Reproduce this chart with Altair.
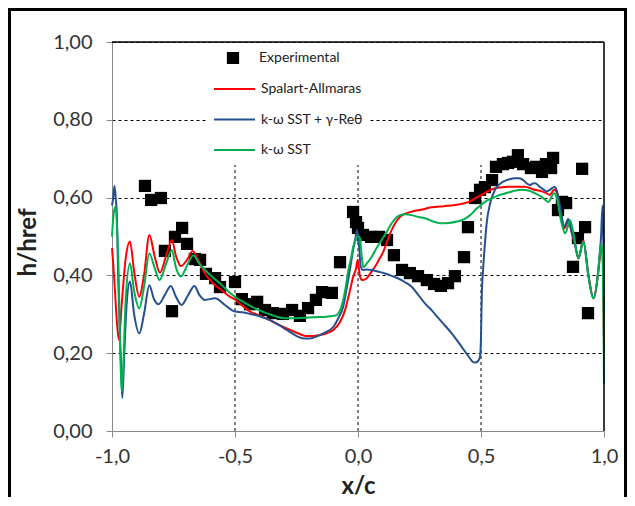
import altair as alt
import pandas as pd

# ---------------- data ----------------
exp_x = [-0.866, -0.841, -0.801, -0.785, -0.744, -0.715, -0.695, -0.663, -0.642, -0.756,
         -0.618, -0.581, -0.561, -0.5, -0.472, -0.439, -0.41, -0.378, -0.346, -0.305,
         -0.268, -0.236, -0.203, -0.171, -0.146, -0.106, -0.073, -0.02, -0.008, 0.0,
         0.02, 0.053, 0.085, 0.118, 0.146, 0.179, 0.211, 0.244, 0.28, 0.309,
         0.337, 0.366, 0.394, 0.431, 0.447, 0.476, 0.496, 0.516, 0.545, 0.561,
         0.589, 0.61, 0.63, 0.65, 0.671, 0.703, 0.724, 0.748, 0.764, 0.793,
         0.785, 0.813, 0.829, 0.846, 0.874, 0.894, 0.911, 0.923, 0.935]
exp_y = [0.630, 0.594, 0.599, 0.463, 0.499, 0.522, 0.481, 0.442, 0.440, 0.308,
         0.404, 0.393, 0.370, 0.383, 0.339, 0.326, 0.332, 0.311, 0.303, 0.301,
         0.311, 0.296, 0.316, 0.337, 0.357, 0.355, 0.434, 0.563, 0.537, 0.522,
         0.504, 0.499, 0.499, 0.491, 0.452, 0.414, 0.406, 0.398, 0.388, 0.378,
         0.373, 0.380, 0.398, 0.447, 0.524, 0.599, 0.620, 0.627, 0.645, 0.679,
         0.686, 0.689, 0.692, 0.709, 0.686, 0.676, 0.679, 0.666, 0.686, 0.702,
         0.676, 0.568, 0.589, 0.586, 0.422, 0.496, 0.674, 0.524, 0.303]

sa_x = [-1.0, -0.995, -0.988, -0.98, -0.972, -0.96, -0.945, -0.927, -0.91, -0.889,
        -0.87, -0.848, -0.827, -0.805, -0.78, -0.757, -0.74, -0.72, -0.695, -0.672,
        -0.65, -0.622, -0.59, -0.554, -0.52, -0.5, -0.47, -0.439, -0.4, -0.358,
        -0.32, -0.276, -0.24, -0.209, -0.18, -0.154, -0.125, -0.1, -0.075, -0.053,
        -0.035, -0.02, -0.008, -0.001, 0.008, 0.018, 0.035, 0.05, 0.069, 0.085,
        0.103, 0.12, 0.137, 0.155, 0.171, 0.19, 0.218, 0.25, 0.3, 0.35,
        0.394, 0.428, 0.455, 0.476, 0.503, 0.53, 0.557, 0.611, 0.65, 0.679,
        0.713, 0.747, 0.767, 0.78, 0.797, 0.808, 0.821, 0.839, 0.855, 0.869,
        0.882, 0.896, 0.916, 0.937, 0.957, 0.977, 0.986, 0.993, 0.998, 1.0]
sa_y = [0.47, 0.43, 0.36, 0.28, 0.234, 0.33, 0.44, 0.487, 0.41, 0.345,
        0.40, 0.504, 0.45, 0.407, 0.45, 0.491, 0.45, 0.424, 0.44, 0.463,
        0.44, 0.405, 0.38, 0.362, 0.345, 0.338, 0.322, 0.307, 0.297, 0.285,
        0.272, 0.26, 0.25, 0.244, 0.244, 0.247, 0.252, 0.26, 0.278, 0.31,
        0.355, 0.395, 0.418, 0.44, 0.397, 0.388, 0.392, 0.405, 0.422, 0.44,
        0.461, 0.49, 0.517, 0.538, 0.551, 0.558, 0.564, 0.568, 0.575, 0.578,
        0.581, 0.585, 0.59, 0.598, 0.607, 0.617, 0.624, 0.628, 0.628, 0.628,
        0.621, 0.616, 0.611, 0.607, 0.62, 0.614, 0.573, 0.521, 0.539, 0.51,
        0.48, 0.444, 0.49, 0.40, 0.341, 0.41, 0.46, 0.47, 0.33, 0.205]

tr_x = [-1.0, -0.995, -0.99, -0.985, -0.98, -0.975, -0.968, -0.961, -0.958, -0.95,
        -0.94, -0.927, -0.91, -0.889, -0.87, -0.848, -0.83, -0.811, -0.785, -0.761,
        -0.74, -0.717, -0.69, -0.665, -0.645, -0.622, -0.581, -0.541, -0.5, -0.47,
        -0.439, -0.4, -0.358, -0.32, -0.29, -0.249, -0.22, -0.195, -0.165, -0.141,
        -0.1, -0.08, -0.06, -0.045, -0.033, -0.02, -0.012, -0.003, 0.005, 0.011,
        0.02, 0.035, 0.056, 0.08, 0.11, 0.14, 0.164, 0.19, 0.218, 0.245,
        0.272, 0.3, 0.327, 0.355, 0.381, 0.4, 0.421, 0.44, 0.455, 0.466,
        0.476, 0.488, 0.496, 0.5, 0.503, 0.508, 0.514, 0.523, 0.537, 0.557,
        0.575, 0.591, 0.615, 0.638, 0.655, 0.672, 0.685, 0.699, 0.71, 0.72,
        0.735, 0.747, 0.767, 0.78, 0.798, 0.808, 0.821, 0.839, 0.855, 0.869,
        0.882, 0.896, 0.916, 0.937, 0.957, 0.977, 0.984, 0.988, 0.994, 0.998, 1.0]
tr_y = [0.58, 0.60, 0.63, 0.60, 0.55, 0.40, 0.25, 0.13, 0.085, 0.20,
        0.33, 0.384, 0.30, 0.251, 0.30, 0.375, 0.34, 0.326, 0.35, 0.373,
        0.345, 0.324, 0.35, 0.373, 0.35, 0.337, 0.341, 0.324, 0.307, 0.305,
        0.301, 0.295, 0.285, 0.272, 0.26, 0.244, 0.238, 0.238, 0.244, 0.251,
        0.268, 0.29, 0.32, 0.37, 0.414, 0.465, 0.491, 0.517, 0.47, 0.423,
        0.414, 0.415, 0.414, 0.41, 0.405, 0.398, 0.392, 0.383, 0.371, 0.35,
        0.328, 0.31, 0.29, 0.27, 0.251, 0.235, 0.217, 0.20, 0.187, 0.178,
        0.176, 0.18, 0.191, 0.24, 0.345, 0.41, 0.465, 0.534, 0.585, 0.62,
        0.634, 0.641, 0.647, 0.65, 0.65, 0.645, 0.637, 0.632, 0.636, 0.637,
        0.63, 0.624, 0.616, 0.62, 0.627, 0.618, 0.578, 0.526, 0.545, 0.51,
        0.48, 0.444, 0.487, 0.397, 0.341, 0.414, 0.465, 0.50, 0.58, 0.45, 0.30]

sst_x = [-1.0, -0.993, -0.985, -0.978, -0.974, -0.968, -0.961, -0.955, -0.945, -0.927,
         -0.91, -0.889, -0.87, -0.848, -0.827, -0.807, -0.78, -0.757, -0.74, -0.72,
         -0.695, -0.67, -0.645, -0.622, -0.59, -0.554, -0.52, -0.5, -0.47, -0.44,
         -0.4, -0.35, -0.3, -0.25, -0.202, -0.16, -0.127, -0.1, -0.087, -0.073,
         -0.06, -0.05, -0.039, -0.028, -0.019, -0.01, -0.005, 0.003, 0.008, 0.015,
         0.022, 0.035, 0.056, 0.075, 0.096, 0.115, 0.137, 0.155, 0.171, 0.19,
         0.218, 0.245, 0.272, 0.3, 0.34, 0.37, 0.407, 0.43, 0.448, 0.465,
         0.476, 0.489, 0.516, 0.557, 0.611, 0.665, 0.692, 0.72, 0.747, 0.774,
         0.797, 0.808, 0.825, 0.842, 0.855, 0.862, 0.876, 0.896, 0.916, 0.937,
         0.957, 0.977, 0.985, 0.99, 0.995, 0.998, 1.0]
sst_y = [0.50, 0.56, 0.577, 0.50, 0.431, 0.25, 0.101, 0.15, 0.33, 0.431,
         0.36, 0.315, 0.37, 0.456, 0.42, 0.388, 0.43, 0.465, 0.42, 0.397,
         0.425, 0.452, 0.43, 0.414, 0.395, 0.375, 0.355, 0.345, 0.333, 0.322,
         0.31, 0.298, 0.29, 0.29, 0.292, 0.293, 0.294, 0.296, 0.298, 0.31,
         0.337, 0.37, 0.414, 0.445, 0.474, 0.49, 0.50, 0.50, 0.496, 0.45,
         0.421, 0.43, 0.448, 0.47, 0.491, 0.51, 0.534, 0.548, 0.555, 0.557,
         0.555, 0.55, 0.547, 0.54, 0.534, 0.535, 0.539, 0.544, 0.551, 0.56,
         0.568, 0.575, 0.589, 0.602, 0.613, 0.62, 0.618, 0.611, 0.602, 0.589,
         0.611, 0.60, 0.542, 0.508, 0.53, 0.542, 0.508, 0.444, 0.487, 0.397,
         0.341, 0.414, 0.47, 0.48, 0.43, 0.30, 0.12]

models = ["Spalart-Allmaras", "k-\u03c9 SST + \u03b3-Re\u03b8", "k-\u03c9 SST"]
model_colors = ["#FF0000", "#24508F", "#00B050"]
grid_x = [-0.5, 0.0, 0.5]
grid_top = 0.684

# ---------------- frames ----------------
exp_df = pd.DataFrame({"x": exp_x, "y": exp_y, "series": "Experimental"})
lines_df = pd.concat([
    pd.DataFrame({"x": sa_x, "y": sa_y, "model": models[0]}),
    pd.DataFrame({"x": tr_x, "y": tr_y, "model": models[1]}),
    pd.DataFrame({"x": sst_x, "y": sst_y, "model": models[2]}),
], ignore_index=True)
grid_df = pd.DataFrame({"x": grid_x, "y0": 0.0, "y1": grid_top})

W, H = 492, 389
FONT = "Lato"

xscale = alt.Scale(domain=[-1, 1], nice=False, zero=False)
yscale = alt.Scale(domain=[0, 1], nice=False)

x_axis = alt.Axis(
    values=[-1, -0.5, 0, 0.5, 1], grid=False,
    labelExpr="(datum.value < 0 ? '-' : '') + replace(format(abs(datum.value), '.1f'), '.', ',')",
    title="x/c", titleFontSize=24, titleFontWeight="bold", titleFont=FONT,
    titleColor="#222", titleBaseline="alphabetic", titleY=62,
    labelFontSize=20, labelFont=FONT, labelColor="#333", labelPadding=9,
    tickSize=6, tickColor="#888", domainColor="#888", labelFlush=False,
)
y_axis = alt.Axis(
    values=[0, 0.2, 0.4, 0.6, 0.8, 1.0], grid=True,
    gridDash=[3, 3], gridColor="#000", gridWidth=1, gridOpacity=1,
    labelExpr="replace(format(datum.value, '.2f'), '.', ',')",
    title="h/href", titleFontSize=24, titleFontWeight="bold", titleFont=FONT,
    titleColor="#222", titleX=-72, titleY=200, titleBaseline="bottom",
    labelFontSize=20, labelFont=FONT, labelColor="#333", labelPadding=14,
    tickSize=6, tickColor="#888", domainColor="#888", labelFlush=False,
)

base_x = alt.X("x:Q", scale=xscale, axis=x_axis)
base_y = alt.Y("y:Q", scale=yscale, axis=y_axis)

vgrid = alt.Chart(grid_df).mark_rule(strokeDash=[3, 3], color="#000", strokeWidth=1).encode(
    x=alt.X("x:Q", scale=xscale, axis=x_axis),
    y=alt.Y("y0:Q", scale=yscale, axis=y_axis),
    y2="y1:Q",
)

points = alt.Chart(exp_df).mark_point(filled=True, size=150, opacity=1, color="#000").encode(
    x=base_x, y=base_y,
    shape=alt.Shape("series:N", scale=alt.Scale(domain=["Experimental"], range=["square"]),
                    legend=alt.Legend(title=None, orient="none", legendX=114, legendY=8,
                                      symbolSize=150, symbolFillColor="#000",
                                      symbolStrokeColor="#000", labelOffset=19,
                                      labelFont=FONT, labelFontSize=14, labelColor="#222",
                                      clipHeight=16, padding=0)),
)

lines = alt.Chart(lines_df).mark_line(strokeWidth=2, interpolate="monotone").encode(
    x=base_x, y=base_y,
    color=alt.Color("model:N", scale=alt.Scale(domain=models, range=model_colors),
                    legend=alt.Legend(title=None, orient="none", legendX=95, legendY=33,
                                      symbolType="stroke", symbolSize=1681,
                                      symbolStrokeWidth=2, labelOffset=5,
                                      labelFont=FONT, labelFontSize=14, labelColor="#222",
                                      clipHeight=16, rowPadding=14.5, padding=6,
                                      fillColor="#FFFFFF")),
    order=alt.Order("x:Q"),
)

one = pd.DataFrame({"a": [0]})
top_border = alt.Chart(one).mark_rule(color="#000", strokeWidth=1.5).encode(
    x=alt.value(0), x2=alt.value(W), y=alt.value(0))
right_border = alt.Chart(one).mark_rule(color="#000", strokeWidth=1.5).encode(
    x=alt.value(W), y=alt.value(0), y2=alt.value(H))

frame = alt.Chart(one).mark_rect(
    fillOpacity=0, stroke="#000", strokeWidth=3
).encode(
    x=alt.value(-102.5), x2=alt.value(W + 21.5),
    y=alt.value(-32.5), y2=alt.value(H + 90),
)

chart = alt.layer(vgrid, points, lines, top_border, right_border, frame).properties(
    width=W, height=H,
    autosize=alt.AutoSizeParams(type="none"),
    padding={"left": 104, "top": 34, "right": 23, "bottom": 66},
).resolve_legend(shape="independent", color="independent").configure_view(
    stroke=None
).configure(background="white")

chart.save("out.html", embed_options={"renderer": "svg", "actions": False})
